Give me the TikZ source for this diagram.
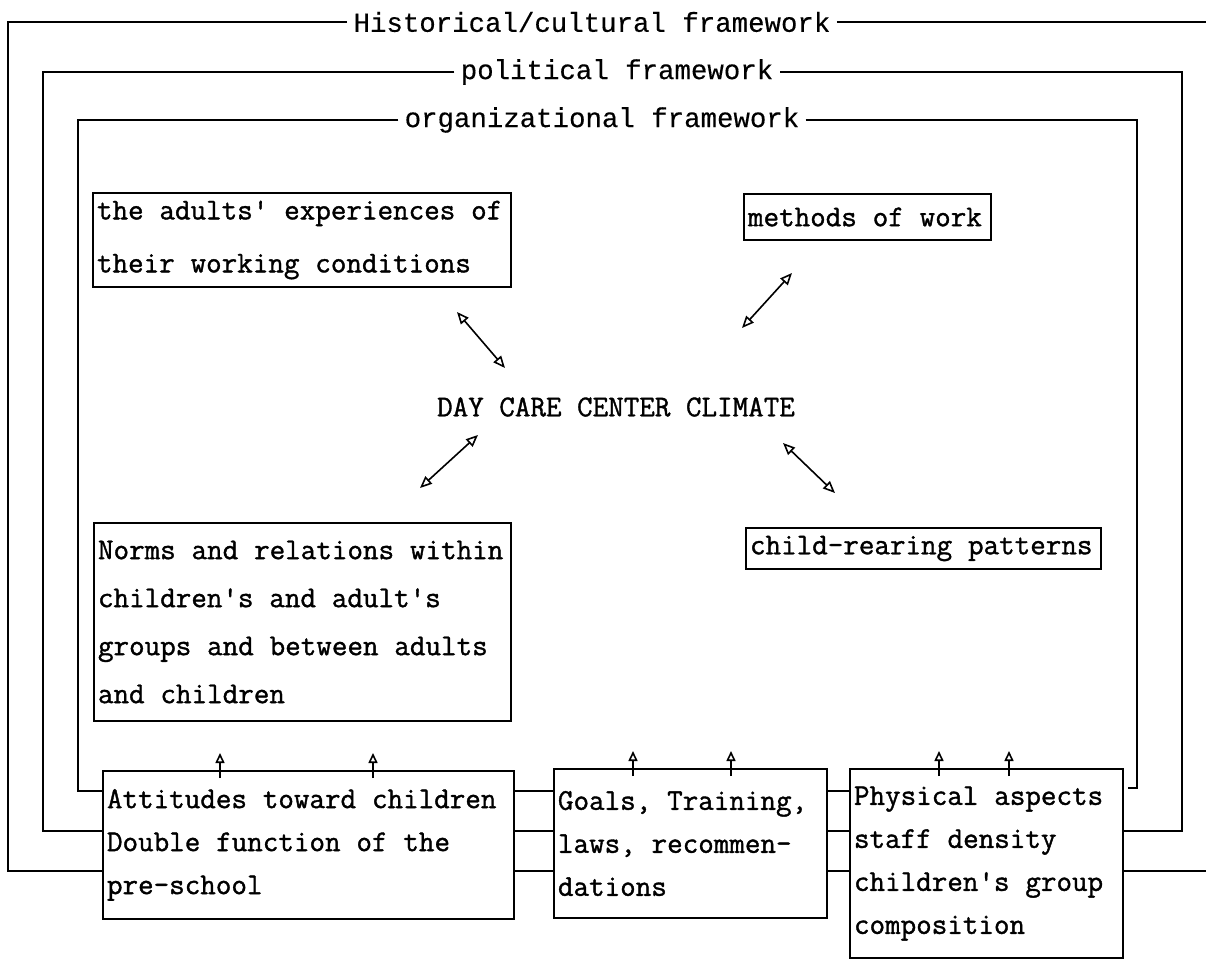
\documentclass[tikz,border=0pt]{standalone}
\usepackage{fontspec}
\usepackage{tikz}
\usetikzlibrary{arrows.meta,calc,positioning}
\newfontfamily\twfont[FakeBold=1.2]{Latin Modern Mono}
\newfontfamily\lblfont[FakeBold=0.3]{Liberation Mono}

\begin{document}
\begin{tikzpicture}[x=0.5pt,y=-0.5pt]
	\tikzstyle{every node} = [font = \fontsize{15.1}{21.5}\selectfont\twfont]
	\tikzstyle{box} = [draw, line width = 1pt, anchor = north west, align = left, inner xsep = 2pt, inner ysep = 0pt, execute at begin node = {\spaceskip=0.525em plus 0pt minus 0pt\relax}]
	\tikzstyle{frame} = [line width = 1pt]
	\tikzstyle{label} = [inner xsep = 3pt, font = \fontsize{13.7}{16}\selectfont\lblfont]
	\tikzstyle{both} = [line width = 0.8pt, {Triangle[open, length = 6pt, width = 5pt]}-{Triangle[open, length = 6pt, width = 5pt]}]
	\tikzstyle{tip} = [line width = 0.8pt, -{Triangle[open, length = 5pt, width = 4.5pt]}]
	\useasboundingbox (0,0) rectangle (1206,959);

\node (0) at (616,407) {DAY CARE CENTER CLIMATE};
\node[box, text width = 205pt, minimum height = 47pt, font = \fontsize{15.1}{26.5}\selectfont\twfont] (1) at (92,192) {the adults' experiences of\\their working conditions};
\node[box, text width = 119.5pt, minimum height = 23pt] (2) at (743,193) {methods of work};
\node[box, text width = 204.5pt, minimum height = 99pt, font = \fontsize{15.1}{24}\selectfont\twfont] (3) at (93,522) {Norms and relations within\\children's and adult's\\groups and between adults\\and children};
\node[box, text width = 173.5pt, minimum height = 20.5pt] (4) at (745,527) {child-rearing patterns};
\node[box, text width = 201.5pt, minimum height = 74pt] (5) at (102,770) {Attitudes toward children\\Double function of the\\pre-school};
\node[box, text width = 132.5pt, minimum height = 74.5pt] (6) at (553,768) {Goals, Training,\\laws, recommen-\\dations};
\node[box, text width = 132.5pt, minimum height = 94.5pt] (7) at (849,768) {Physical aspects\\staff density\\children's group\\composition};

	\node[label] (8) at (592,22) {Historical/cultural framework};
	\node[label] (9) at (617,72) {political framework};
	\node[label] (10) at (602,120) {organizational framework};

	\coordinate (ht) at (1206,22);
	\coordinate (hb) at (1206,871);
	\coordinate (ot) at (1128,788);

	% historical/cultural
	\path[draw, frame] (8.west) -| (8,871) -- (5.west |- 0,871);
	\path[draw, frame] (8.east) -- (ht);
	\path[draw, frame] (5.east |- 0,871) -- (6.west |- 0,871);
	\path[draw, frame] (6.east |- 0,871) -- (7.west |- 0,871);
	\path[draw, frame] (7.east |- 0,871) -- (hb);
	% political
	\path[draw, frame] (9.west) -| (43,831) -- (5.west |- 0,831);
	\path[draw, frame] (5.east |- 0,831) -- (6.west |- 0,831);
	\path[draw, frame] (6.east |- 0,831) -- (7.west |- 0,831);
	\path[draw, frame] (7.east |- 0,831) -| (1182,72) -- (9.east);
	% organizational
	\path[draw, frame] (10.west) -| (78,791) -- (5.west |- 0,791);
	\path[draw, frame] (5.east |- 0,791) -- (6.west |- 0,791);
	\path[draw, frame] (6.east |- 0,791) -- (7.west |- 0,791);
	\path[draw, frame] (10.east) -| (1137,788) -- (ot);

	\coordinate (a1) at (457,312);
	\coordinate (b1) at (505,368);
	\coordinate (a2) at (792,273);
	\coordinate (b2) at (742,328);
	\coordinate (a3) at (478,435);
	\coordinate (b3) at (420,488);
	\coordinate (a4) at (783,443);
	\coordinate (b4) at (835,493);
	\path[draw, both] (a1) -- (b1);
	\path[draw, both] (a2) -- (b2);
	\path[draw, both] (a3) -- (b3);
	\path[draw, both] (a4) -- (b4);

	\path[draw, tip] ($(5.north west)+(118,8)$) -- ++(0,-25);
	\path[draw, tip] ($(5.north west)+(271,8)$) -- ++(0,-25);
	\path[draw, tip] ($(6.north west)+(80,8)$) -- ++(0,-25);
	\path[draw, tip] ($(6.north west)+(178,8)$) -- ++(0,-25);
	\path[draw, tip] ($(7.north west)+(90,8)$) -- ++(0,-25);
	\path[draw, tip] ($(7.north west)+(160,8)$) -- ++(0,-25);
	\end{tikzpicture}
\end{document}
